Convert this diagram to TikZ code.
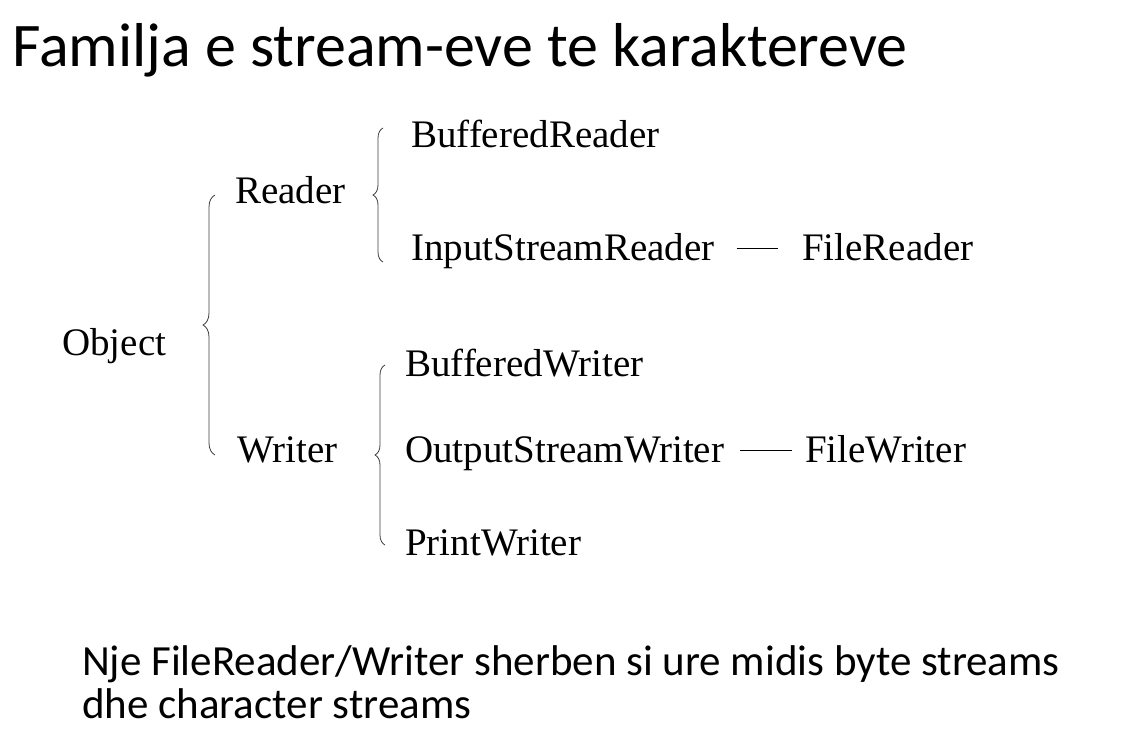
\documentclass[tikz,border=0pt]{standalone}
\usepackage{fontspec}
\setmainfont{Liberation Serif}
\newfontfamily\titlefont{Carlito}
\usetikzlibrary{decorations.pathreplacing}

\tikzset{
  cls/.style={anchor=base west, inner sep=0pt, text height=30pt, text depth=6pt,
    font=\fontsize{39}{47}\selectfont},
  bracket/.style={draw={rgb,255:red,60;green,60;blue,60}, line width=0.8pt,
    decorate, decoration={brace, amplitude=#1}},
  link/.style={draw, line width=0.8pt},
}

\begin{document}
\begin{tikzpicture}[x=1pt,y=1pt,yscale=-1,xscale=1]
\useasboundingbox (0,0) rectangle (1127,733);

% Title
\node (title) [anchor=base west, inner sep=0pt, font=\titlefont\fontsize{62}{70}\selectfont] at (12,67) {Familja e stream-eve te karaktereve};

% Class names
\node (obj) [cls] at (62,355) {Object};
\node (rdr) [cls] at (235,203) {Reader};
\node (wrt) [cls] at (237,462) {Writer};
\node (br) [cls] at (411,147) {BufferedReader};
\node (isr) [cls] at (411,260) {InputStreamReader};
\node (fr) [cls] at (802,260) {FileReader};
\node (bw) [cls] at (405,376) {BufferedWriter};
\node (osw) [cls] at (405,462) {OutputStreamWriter};
\node (fw) [cls] at (805,462) {FileWriter};
\node (pw) [cls] at (405,555) {PrintWriter};

% Braces
\coordinate (objtop) at (215,195);
\coordinate (objbot) at (215,455);
\coordinate (rdrtop) at (383,128);
\coordinate (rdrbot) at (383,262);
\coordinate (wrttop) at (385,365);
\coordinate (wrtbot) at (385,545);
\draw [bracket=12pt] (objbot) -- (objtop);
\draw [bracket=10pt] (rdrbot) -- (rdrtop);
\draw [bracket=10pt] (wrtbot) -- (wrttop);

% Links
\draw [link, shorten <=22pt, shorten >=24pt] (isr.east) -- (fr.west);
\draw [link, shorten <=16pt, shorten >=13pt] (osw.east) -- (fw.west);

% Note
\node (note) [anchor=base west, inner sep=0pt, align=left, font=\titlefont\fontsize{43}{43}\selectfont] at (82,718) {Nje FileReader/Writer sherben si ure midis byte streams\\dhe character streams};

\end{tikzpicture}
\end{document}
